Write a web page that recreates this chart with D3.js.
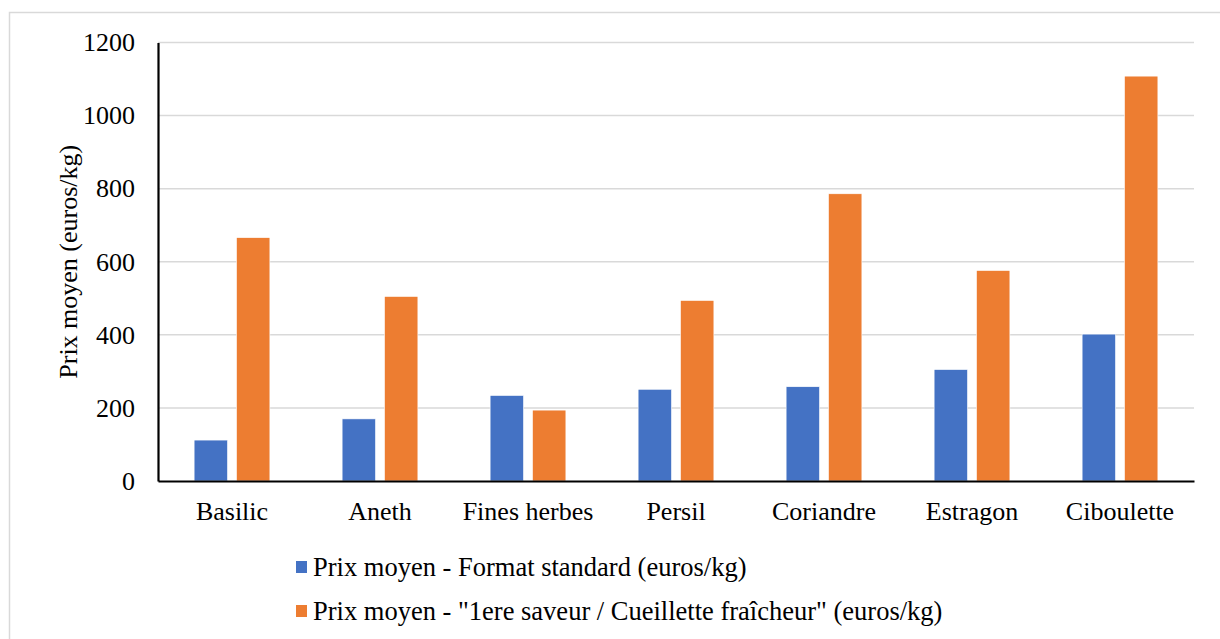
<!DOCTYPE html>
<html>
<head>
<meta charset="utf-8">
<script src="https://cdn.jsdelivr.net/npm/d3@7"></script>
<style>
  html, body { margin: 0; padding: 0; background: #fff; }
  svg { display: block; }
</style>
</head>
<body>
<svg id="chart" width="1220" height="639"></svg>
<script>
const categories = ["Basilic", "Aneth", "Fines herbes", "Persil", "Coriandre", "Estragon", "Ciboulette"];
const seriesNames = [
  "Prix moyen - Format standard (euros/kg)",
  "Prix moyen - \"1ere saveur / Cueillette fraîcheur\" (euros/kg)"
];
const standardValues = [112, 170, 234, 251, 258, 305, 402];
const premiumValues = [666, 505, 194, 494, 786, 576, 1108];
const yTicks = [0, 200, 400, 600, 800, 1000, 1200];
const colors = ["#4472C4", "#ED7D31"];
const yTitle = "Prix moyen (euros/kg)";

const FONT = "\"Liberation Serif\", monospace";

const seriesValues = [standardValues, premiumValues];
const data = categories.map((c, i) => ({
  cat: c,
  vals: seriesValues.map((s, j) => ({ key: j, value: s[i] }))
}));

const svg = d3.select("#chart");

// outer chart border
svg.append("rect")
  .attr("x", 9.5).attr("y", 12.5)
  .attr("width", 1300).attr("height", 700)
  .attr("fill", "#fff").attr("stroke", "#d9d9d9").attr("stroke-width", 1.5);

const plotLeft = 158, plotRight = 1194, plotTop = 42.5, plotBottom = 481;

const y = d3.scaleLinear().domain([0, 1200]).range([plotBottom, plotTop]);
const x0 = d3.scaleBand().domain(categories).range([plotLeft, plotRight])
  .paddingInner(0.488).paddingOuter(0.244);
const x1 = d3.scaleBand().domain([0, 1]).range([0, x0.bandwidth()])
  .paddingInner(0.212);

// gridlines
svg.append("g")
  .selectAll("line").data(yTicks.filter(d => d > 0)).join("line")
  .attr("x1", plotLeft).attr("x2", plotRight)
  .attr("y1", d => y(d)).attr("y2", d => y(d))
  .attr("stroke", "#d9d9d9").attr("stroke-width", 1.5);

// bars
svg.append("g")
  .selectAll("g").data(data).join("g")
  .attr("transform", d => `translate(${x0(d.cat)},0)`)
  .selectAll("rect").data(d => d.vals).join("rect")
  .attr("x", d => x1(d.key))
  .attr("width", x1.bandwidth())
  .attr("y", d => y(d.value))
  .attr("height", d => y(0) - y(d.value))
  .attr("fill", d => colors[d.key])
  .attr("stroke", "#fff").attr("stroke-width", 0.6);

// y axis
const yAxis = svg.append("g")
  .attr("transform", `translate(${plotLeft},0)`)
  .call(d3.axisLeft(y).tickValues(yTicks).tickSize(0).tickPadding(23).tickFormat(d3.format("d")));
yAxis.attr("font-family", null).attr("font-size", null);
yAxis.select(".domain").attr("stroke", "#000").attr("stroke-width", 2.2);
yAxis.selectAll("text").attr("fill", "#000").style("font-family", FONT).style("font-size", "26px");

// x axis
const xAxis = svg.append("g")
  .attr("transform", `translate(0,${plotBottom})`)
  .call(d3.axisBottom(x0).tickSize(0).tickPadding(21));
xAxis.attr("font-family", null).attr("font-size", null);
xAxis.select(".domain").attr("stroke", "#000").attr("stroke-width", 2.2);
xAxis.selectAll("text").attr("fill", "#000").style("font-family", FONT).style("font-size", "26px");

// y title
svg.append("text")
  .attr("transform", `translate(77,${(plotTop + plotBottom) / 2}) rotate(-90)`)
  .attr("text-anchor", "middle")
  .style("font-family", FONT)
  .style("font-size", "26px")
  .attr("fill", "#000")
  .text(yTitle);

// legend
const legend = svg.append("g")
  .selectAll("g").data(seriesNames).join("g")
  .attr("transform", (d, i) => `translate(296,${567 + i * 44})`);
legend.append("rect")
  .attr("x", 0).attr("y", -6).attr("width", 11).attr("height", 12)
  .attr("fill", (d, i) => colors[i]);
legend.append("text")
  .attr("x", 17).attr("y", 0).attr("dy", "0.35em")
  .style("font-family", FONT)
  .style("font-size", "26.5px")
  .attr("fill", "#000")
  .text(d => d);
</script>
</body>
</html>
